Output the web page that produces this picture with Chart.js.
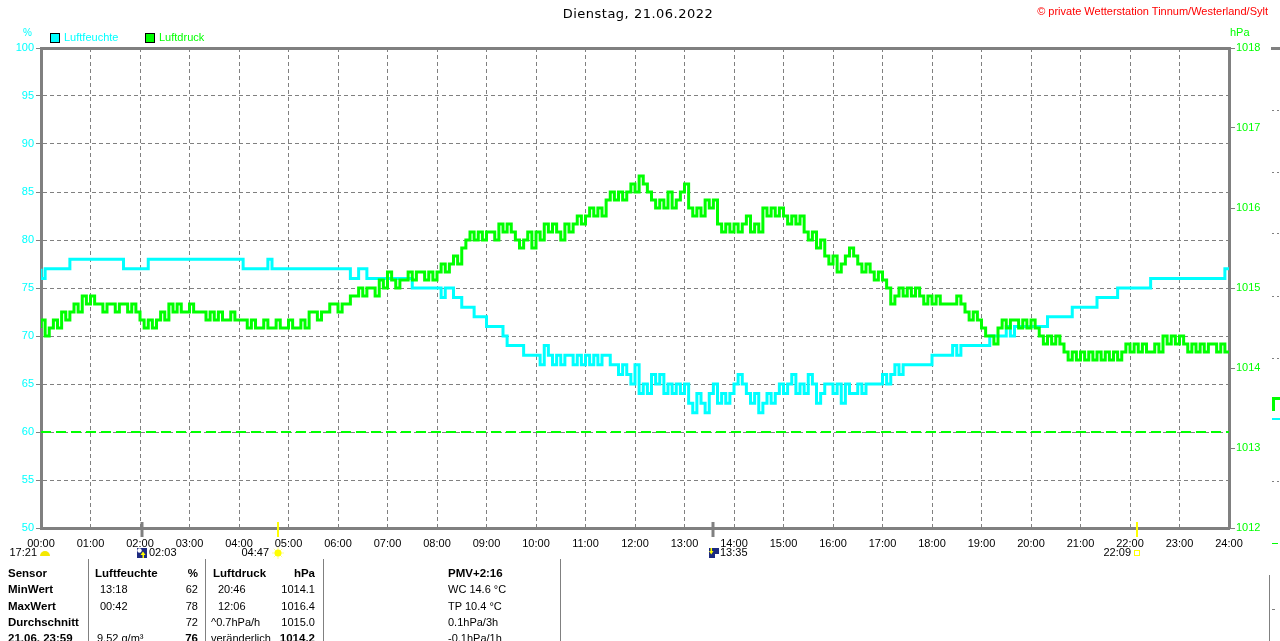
<!DOCTYPE html>
<html>
<head>
<meta charset="utf-8">
<title>Dienstag, 21.06.2022</title>
<script src="https://cdn.jsdelivr.net/npm/chart.js@4.4.0/dist/chart.umd.min.js"></script>
<style>
  body { margin:0; background:#fff; }
  #wrap { position:relative; width:1280px; height:641px; overflow:hidden; font-family:"Liberation Sans", Arial, sans-serif; font-size:11px; color:#000; }
  #chart { position:absolute; left:0; top:0; }
  .t { position:absolute; white-space:nowrap; line-height:13px; }
  .b { font-weight:bold; font-size:11.5px; }
  .sep { position:absolute; width:1px; background:#808080; }
  .box { position:absolute; width:8px; height:8px; border:1px solid #000; }
</style>
</head>
<body>
<div id="wrap">
  <canvas id="chart" width="1280" height="641"></canvas>

  <div class="t" style="left:-2px; width:1280px; top:6px; text-align:center; font-family:'DejaVu Sans', sans-serif; font-size:13px; line-height:15px; letter-spacing:0.5px;">Dienstag, 21.06.2022</div>
  <div class="t" style="right:12px; top:5px; color:#ff0000;">&copy; private Wetterstation Tinnum/Westerland/Sylt</div>

  <div class="t" style="left:23px; top:26px; color:#00ffff; font-size:10px;">%</div>
  <div class="t" style="left:1230px; top:26px; color:#00ff00;">hPa</div>

  <div class="box" style="left:50px; top:33px; background:#00ffff;"></div>
  <div class="t" style="left:64px; top:31px; color:#00ffff;">Luftfeuchte</div>
  <div class="box" style="left:145px; top:33px; background:#00ff00;"></div>
  <div class="t" style="left:159px; top:31px; color:#00ff00;">Luftdruck</div>

  <!-- Tabelle -->
  <div class="sep" style="left:88px; top:559px; height:82px;"></div>
  <div class="sep" style="left:205px; top:559px; height:82px;"></div>
  <div class="sep" style="left:323px; top:559px; height:82px;"></div>
  <div class="sep" style="left:560px; top:559px; height:82px;"></div>

  <div class="t b" style="left:8px; top:567px;">Sensor</div>
  <div class="t b" style="left:95px; top:567px;">Luftfeuchte</div>
  <div class="t b" style="right:1082px; top:567px;">%</div>
  <div class="t b" style="left:213px; top:567px;">Luftdruck</div>
  <div class="t b" style="right:965px; top:567px;">hPa</div>
  <div class="t b" style="left:448px; top:567px;">PMV+2:16</div>

  <div class="t b" style="left:8px; top:583px;">MinWert</div>
  <div class="t" style="left:100px; top:583px;">13:18</div>
  <div class="t" style="right:1082px; top:583px;">62</div>
  <div class="t" style="left:218px; top:583px;">20:46</div>
  <div class="t" style="right:965px; top:583px;">1014.1</div>
  <div class="t" style="left:448px; top:583px;">WC 14.6 °C</div>

  <div class="t b" style="left:8px; top:600px;">MaxWert</div>
  <div class="t" style="left:100px; top:600px;">00:42</div>
  <div class="t" style="right:1082px; top:600px;">78</div>
  <div class="t" style="left:218px; top:600px;">12:06</div>
  <div class="t" style="right:965px; top:600px;">1016.4</div>
  <div class="t" style="left:448px; top:600px;">TP 10.4 °C</div>

  <div class="t b" style="left:8px; top:616px;">Durchschnitt</div>
  <div class="t" style="right:1082px; top:616px;">72</div>
  <div class="t" style="left:211px; top:616px;">^0.7hPa/h</div>
  <div class="t" style="right:965px; top:616px;">1015.0</div>
  <div class="t" style="left:448px; top:616px;">0.1hPa/3h</div>

  <div class="t b" style="left:8px; top:632px;">21.06. 23:59</div>
  <div class="t" style="left:97px; top:632px;">9.52 g/m³</div>
  <div class="t b" style="right:1082px; top:632px;">76</div>
  <div class="t" style="left:211px; top:632px;">veränderlich</div>
  <div class="t b" style="right:965px; top:632px;">1014.2</div>
  <div class="t" style="left:448px; top:632px;">-0.1hPa/1h</div>
</div>

<script>
// Messwerte alle 5 Minuten, 00:00 bis 24:00
const sampleMinutes = 5;

const xTickLabels = ['00:00','01:00','02:00','03:00','04:00','05:00','06:00','07:00','08:00','09:00','10:00','11:00','12:00',
  '13:00','14:00','15:00','16:00','17:00','18:00','19:00','20:00','21:00','22:00','23:00','24:00'];
const humidityTicks = [50, 55, 60, 65, 70, 75, 80, 85, 90, 95, 100];
const pressureTicks = [1012, 1013, 1014, 1015, 1016, 1017, 1018];
const humidityLimit = 60;

const humidity = [
  77,76,77,77,77,77,77,77,78,78,78,78,
  78,78,78,78,78,78,78,78,78,77,77,77,
  77,77,77,78,78,78,78,78,78,78,78,78,
  78,78,78,78,78,78,78,78,78,78,78,78,
  78,78,77,77,77,77,77,77,78,77,77,77,
  77,77,77,77,77,77,77,77,77,77,77,77,
  77,77,77,77,76,76,77,77,76,76,76,76,
  76,76,76,76,76,76,76,75,75,75,75,75,
  75,75,74,75,75,74,74,73,73,73,72,72,
  72,71,71,71,71,70,69,69,69,69,68,68,
  68,68,67,69,68,67,68,67,68,68,67,68,
  67,68,67,68,67,68,68,67,67,66,67,66,
  65,67,64,65,64,66,65,66,64,65,64,65,
  64,65,63,62,64,63,62,64,65,63,64,63,
  64,65,66,65,64,63,64,62,63,64,63,64,
  65,64,65,66,64,65,64,66,65,63,64,65,
  65,64,65,63,65,64,64,65,64,65,65,65,
  65,66,65,66,67,66,67,67,67,67,67,67,
  67,68,68,68,68,68,69,68,69,69,69,69,
  69,69,69,70,70,70,70,71,70,71,71,71,
  71,71,71,71,71,72,72,72,72,72,72,73,
  73,73,73,73,73,74,74,74,74,74,75,75,
  75,75,75,75,75,75,76,76,76,76,76,76,
  76,76,76,76,76,76,76,76,76,76,76,76,
  77
];

const pressure = [
  1014.5,1014.6,1014.4,1014.5,1014.6,1014.5,1014.7,1014.6,1014.7,1014.8,1014.7,1014.9,
  1014.8,1014.9,1014.8,1014.8,1014.7,1014.8,1014.8,1014.7,1014.8,1014.8,1014.7,1014.8,
  1014.7,1014.6,1014.5,1014.6,1014.5,1014.6,1014.7,1014.6,1014.8,1014.7,1014.8,1014.7,
  1014.7,1014.8,1014.7,1014.7,1014.7,1014.6,1014.7,1014.6,1014.7,1014.6,1014.6,1014.7,
  1014.6,1014.6,1014.6,1014.5,1014.6,1014.5,1014.5,1014.6,1014.5,1014.5,1014.6,1014.5,
  1014.5,1014.6,1014.5,1014.5,1014.6,1014.5,1014.7,1014.7,1014.6,1014.7,1014.7,1014.8,
  1014.8,1014.7,1014.8,1014.8,1014.9,1014.9,1015.0,1014.9,1015.0,1015.0,1014.9,1015.1,
  1015.0,1015.2,1015.1,1015.0,1015.1,1015.1,1015.2,1015.1,1015.2,1015.2,1015.1,1015.2,
  1015.1,1015.2,1015.3,1015.2,1015.3,1015.4,1015.3,1015.5,1015.6,1015.7,1015.6,1015.7,
  1015.6,1015.7,1015.7,1015.6,1015.8,1015.7,1015.8,1015.7,1015.6,1015.5,1015.6,1015.7,
  1015.5,1015.7,1015.6,1015.8,1015.7,1015.8,1015.7,1015.6,1015.8,1015.7,1015.8,1015.9,
  1015.8,1015.9,1016.0,1015.9,1016.0,1015.9,1016.1,1016.2,1016.1,1016.2,1016.1,1016.2,
  1016.3,1016.2,1016.4,1016.3,1016.2,1016.1,1016.0,1016.1,1016.0,1016.2,1016.0,1016.1,
  1016.2,1016.3,1016.0,1015.9,1016.0,1015.9,1016.1,1016.0,1016.1,1015.8,1015.7,1015.8,
  1015.7,1015.8,1015.7,1015.8,1015.9,1015.7,1015.8,1015.7,1016.0,1015.9,1016.0,1015.9,
  1016.0,1015.9,1015.8,1015.9,1015.8,1015.9,1015.7,1015.6,1015.7,1015.5,1015.6,1015.4,
  1015.3,1015.4,1015.2,1015.3,1015.4,1015.5,1015.4,1015.3,1015.2,1015.3,1015.2,1015.1,
  1015.2,1015.1,1015.0,1014.8,1014.9,1015.0,1014.9,1015.0,1014.9,1015.0,1014.9,1014.8,
  1014.9,1014.8,1014.9,1014.8,1014.8,1014.8,1014.8,1014.9,1014.8,1014.7,1014.6,1014.7,
  1014.6,1014.5,1014.4,1014.4,1014.3,1014.5,1014.6,1014.5,1014.6,1014.6,1014.5,1014.6,
  1014.5,1014.6,1014.5,1014.4,1014.3,1014.4,1014.3,1014.4,1014.3,1014.2,1014.1,1014.2,
  1014.1,1014.2,1014.1,1014.2,1014.1,1014.2,1014.1,1014.2,1014.1,1014.2,1014.1,1014.2,
  1014.3,1014.2,1014.3,1014.2,1014.3,1014.2,1014.2,1014.3,1014.2,1014.4,1014.3,1014.4,
  1014.3,1014.4,1014.3,1014.2,1014.3,1014.2,1014.3,1014.2,1014.3,1014.3,1014.2,1014.3,
  1014.2
];

// Mond- und Sonnenzeiten unter der Zeitachse
const dayLength = '17:21';
const markerTimes = ['02:03', '04:47', '13:35', '22:09'];
const markerKinds = ['moonrise', 'sunrise', 'moonset', 'sunset'];

const FONT = '"Liberation Sans", Arial, sans-serif';
const GRID = '#808080';

function toMinutes(hhmm){
  const [h, m] = hhmm.split(':').map(Number);
  return h * 60 + m;
}

function toPoints(values){
  return values.map((v, i) => ({ x: i * sampleMinutes, y: v }));
}

function moonIcon(ctx, left, top, rising){
  ctx.fillStyle = '#1c2a80';
  ctx.fillRect(left, top, 10, 10);
  ctx.fillStyle = '#ffff00';
  ctx.strokeStyle = '#ffff00';
  ctx.lineWidth = 1;
  if(rising){
    ctx.fillStyle = '#ffffff';
    ctx.beginPath(); ctx.arc(left + 2.5, top + 2.5, 2.2, 0, Math.PI * 2); ctx.fill();
    ctx.fillStyle = '#ffff00';
    ctx.beginPath(); ctx.moveTo(left + 3.5, top + 7); ctx.lineTo(left + 6, top + 3.5); ctx.lineTo(left + 8.5, top + 7); ctx.fill();
    ctx.fillRect(left + 5.5, top + 6, 1.5, 4);
  } else {
    ctx.fillRect(left + 1.5, top, 1.5, 4);
    ctx.beginPath(); ctx.moveTo(left, top + 3); ctx.lineTo(left + 2.25, top + 6.5); ctx.lineTo(left + 4.5, top + 3); ctx.fill();
    ctx.fillStyle = '#ffffff';
    ctx.fillRect(left + 6, top + 6, 4, 4);
  }
}

function sunIcon(ctx, cx, cy){
  ctx.strokeStyle = '#ffff90';
  ctx.lineWidth = 1;
  for(let k = 0; k < 8; k++){
    const a = k * Math.PI / 4;
    ctx.beginPath();
    ctx.moveTo(cx + Math.cos(a) * 3, cy + Math.sin(a) * 3);
    ctx.lineTo(cx + Math.cos(a) * 6, cy + Math.sin(a) * 6);
    ctx.stroke();
  }
  ctx.fillStyle = '#ffff00';
  ctx.beginPath(); ctx.arc(cx, cy, 3.5, 0, Math.PI * 2); ctx.fill();
}

const sunMoonPlugin = {
  id: 'sunMoon',
  afterDraw(chart){
    const { ctx, chartArea, scales } = chart;
    const x = scales.x;
    const base = chartArea.bottom;
    const rowY = 553;

    ctx.save();
    ctx.font = '11px ' + FONT;
    ctx.textBaseline = 'middle';

    // Tageslänge links
    const x0 = x.getPixelForValue(0);
    ctx.fillStyle = '#000';
    ctx.textAlign = 'right';
    ctx.fillText(dayLength, x0 - 4, rowY);
    ctx.fillStyle = '#f4e800';
    ctx.beginPath(); ctx.arc(x0 + 4, rowY + 3, 5, Math.PI, 0); ctx.closePath(); ctx.fill();

    markerTimes.forEach((t, i) => {
      const px = Math.round(x.getPixelForValue(toMinutes(t)));
      const kind = markerKinds[i];
      const moon = kind.startsWith('moon');

      ctx.beginPath();
      ctx.strokeStyle = moon ? GRID : '#ffff00';
      ctx.lineWidth = moon ? 3 : 2;
      ctx.moveTo(px, base - 6);
      ctx.lineTo(px, base + 9);
      ctx.stroke();

      ctx.fillStyle = '#000';
      if(kind === 'moonrise'){
        moonIcon(ctx, px - 5, rowY - 5, true);
        ctx.fillStyle = '#000'; ctx.textAlign = 'left';
        ctx.fillText(t, px + 7, rowY);
      } else if(kind === 'moonset'){
        moonIcon(ctx, px - 4, rowY - 5, false);
        ctx.fillStyle = '#000'; ctx.textAlign = 'left';
        ctx.fillText(t, px + 7, rowY);
      } else if(kind === 'sunrise'){
        sunIcon(ctx, px, rowY);
        ctx.fillStyle = '#000'; ctx.textAlign = 'right';
        ctx.fillText(t, px - 9, rowY);
      } else {
        ctx.strokeStyle = '#ffff00'; ctx.lineWidth = 1;
        ctx.strokeRect(px - 2.5, rowY - 2.5, 5, 5);
        ctx.fillStyle = '#000'; ctx.textAlign = 'right';
        ctx.fillText(t, px - 6, rowY);
      }
    });

    // abgeschnittene Nachbargrafik am rechten Rand
    ctx.fillStyle = GRID;
    ctx.fillRect(1271, 47, 9, 3);
    [110, 172, 233, 296, 358, 481].forEach(y => {
      ctx.fillRect(1272, y, 2, 1);
      ctx.fillRect(1277, y, 2, 1);
    });
    ctx.fillRect(1269, 575, 1, 66);
    ctx.fillRect(1272, 609, 3, 1);
    ctx.fillStyle = '#00ff00';
    ctx.fillRect(1272, 397, 3, 14);
    ctx.fillRect(1272, 397, 8, 3);
    ctx.fillRect(1272, 543, 6, 1);
    ctx.fillStyle = '#00ffff';
    ctx.fillRect(1272, 418, 8, 2);

    ctx.restore();
  }
};

Chart.defaults.font.family = FONT;
Chart.defaults.font.size = 11;

new Chart(document.getElementById('chart'), {
  type: 'line',
  data: {
    datasets: [
      {
        label: 'Luftdruck',
        data: toPoints(pressure),
        yAxisID: 'yP',
        borderColor: '#00ff00',
        borderWidth: 3,
        stepped: 'after',
        pointRadius: 0,
        order: 0
      },
      {
        label: 'Luftfeuchte',
        data: toPoints(humidity),
        yAxisID: 'yH',
        borderColor: '#00ffff',
        borderWidth: 3,
        stepped: 'after',
        pointRadius: 0,
        order: 1
      },
      {
        label: 'Grenze',
        data: [{ x: 0, y: humidityLimit }, { x: 1440, y: humidityLimit }],
        yAxisID: 'yH',
        borderColor: '#00ff00',
        borderWidth: 2,
        borderDash: [10, 5],
        pointRadius: 0,
        order: 2
      }
    ]
  },
  options: {
    responsive: false,
    animation: false,
    devicePixelRatio: 1,
    layout: { padding: { top: 48, left: 0, right: 0, bottom: 83 } },
    plugins: { legend: { display: false }, tooltip: { enabled: false } },
    scales: {
      x: {
        type: 'linear', position: 'bottom', min: 0, max: 1440,
        ticks: { stepSize: 60, autoSkip: false, maxRotation: 0, padding: 9, color: '#000',
          callback: (v, i) => xTickLabels[i] },
        grid: { color: GRID, lineWidth: 1, drawTicks: false },
        border: { color: GRID, width: 3, dash: [4, 3] },
        afterFit: s => { s.height = 30; }
      },
      xTop: {
        type: 'linear', position: 'top', min: 0, max: 1440,
        ticks: { display: false },
        grid: { display: false, drawTicks: false },
        border: { color: GRID, width: 3 },
        afterFit: s => { s.height = 0; }
      },
      yH: {
        position: 'left', min: 50, max: 100,
        afterBuildTicks: s => { s.ticks = humidityTicks.map(v => ({ value: v })); },
        ticks: { color: '#00ffff', padding: 2, callback: v => String(v) },
        grid: { color: GRID, lineWidth: 1, tickLength: 5 },
        border: { color: GRID, width: 3, dash: [4, 3] },
        afterFit: s => { s.width = 41; }
      },
      yP: {
        position: 'right', min: 1012, max: 1018,
        afterBuildTicks: s => { s.ticks = pressureTicks.map(v => ({ value: v })); },
        ticks: { color: '#00ff00', padding: 1, callback: v => String(v) },
        grid: { drawOnChartArea: false, color: GRID, tickLength: 6 },
        border: { color: GRID, width: 3 },
        afterFit: s => { s.width = 51; }
      }
    }
  },
  plugins: [sunMoonPlugin]
});
</script>
</body>
</html>
